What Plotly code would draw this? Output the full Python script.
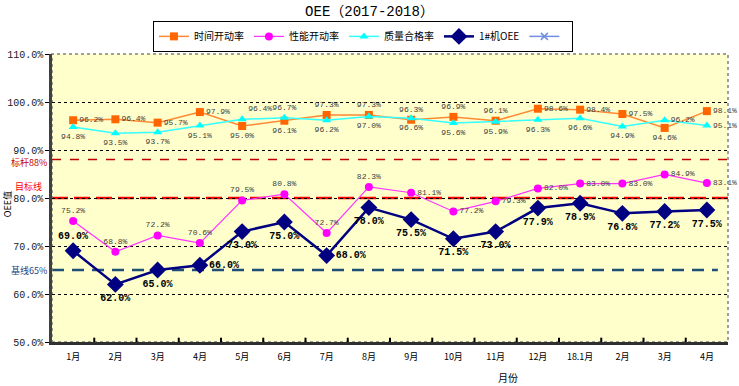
import plotly.graph_objects as go

months = ["1月", "2月", "3月", "4月", "5月", "6月", "7月", "8月", "9月", "10月", "11月", "12月", "18.1月", "2月", "3月", "4月"]
time_rate = [96.2, 96.4, 95.7, 97.9, 95.0, 96.1, 97.3, 97.3, 96.3, 96.9, 96.1, 98.6, 98.4, 97.5, 94.6, 98.1]
perf_rate = [75.2, 68.8, 72.2, 70.6, 79.5, 80.8, 72.7, 82.3, 81.1, 77.2, 79.3, 82.0, 83.0, 83.0, 84.9, 83.1]
qual_rate = [94.8, 93.5, 93.7, 95.1, 96.4, 96.7, 96.2, 97.0, 96.6, 95.6, 95.9, 96.3, 96.6, 94.9, 96.2, 95.1]
oee = [69.0, 62.0, 65.0, 66.0, 73.0, 75.0, 68.0, 78.0, 75.5, 71.5, 73.0, 77.9, 78.9, 76.8, 77.2, 77.5]
benchmark = 88
target = 80
baseline = 65

# unique x keys (month names repeat)
xkeys = list(range(len(months)))

MONO = "Liberation Mono, Noto Sans CJK SC"
CJK = "Noto Sans CJK SC"

time_pos = ["middle right"] * 4 + ["bottom center", "bottom center", "top center", "top center", "top center", "top center", "top center",
            "middle right", "middle right", "middle right", "bottom center", "middle right"]
qual_pos = ["bottom center"] * 4 + ["top right", "top center"] + ["bottom center"] * 8 + ["middle right", "middle right"]
perf_pos = ["top center"] * 8 + ["middle right"] * 8
oee_pos = ["top center", "bottom center", "bottom center", "middle right", "bottom center", "bottom center", "middle right"] + ["bottom center"] * 9

small_font = dict(family=MONO, size=8, color="#404040")

fig = go.Figure()
fig.add_trace(go.Scatter(x=xkeys, y=time_rate, name="时间开动率", mode="lines+markers+text",
                         line=dict(color="#FF8A33", width=1.5),
                         marker=dict(symbol="square", size=8, color="#FF6600"),
                         text=[f"{v:.1f}%" for v in time_rate], textposition=time_pos, textfont=small_font,
                         cliponaxis=False))
fig.add_trace(go.Scatter(x=xkeys, y=perf_rate, name="性能开动率", mode="lines+markers+text",
                         line=dict(color="#FF33FF", width=1.2),
                         marker=dict(symbol="circle", size=8, color="#FF00FF"),
                         text=[f"{v:.1f}%" for v in perf_rate], textposition=perf_pos, textfont=small_font,
                         cliponaxis=False))
fig.add_trace(go.Scatter(x=xkeys, y=qual_rate, name="质量合格率", mode="lines+markers+text",
                         line=dict(color="#33FFFF", width=1.5),
                         marker=dict(symbol="triangle-up", size=8, color="#00FFFF"),
                         text=[f"{v:.1f}%" for v in qual_rate], textposition=qual_pos, textfont=small_font,
                         cliponaxis=False))
fig.add_trace(go.Scatter(x=xkeys, y=oee, name="1#机OEE", mode="lines+markers+text",
                         line=dict(color="#000080", width=2.5),
                         marker=dict(symbol="diamond", size=13, color="#000080"),
                         text=[f"<b>{v:.1f}%</b>" for v in oee], textposition=oee_pos,
                         textfont=dict(family=MONO, size=10, color="#000000")))
fig.add_trace(go.Scatter(x=[None], y=[None], name=" ", mode="lines+markers",
                         line=dict(color="#6F8FDF", width=1.5),
                         marker=dict(symbol="x-thin", size=7, color="#6F8FDF", line=dict(color="#6F8FDF", width=1.5))))

# reference lines
fig.add_shape(type="line", xref="paper", yref="y", x0=0, x1=1, y0=benchmark, y1=benchmark,
              line=dict(color="#C00000", width=1.5, dash="dash"), layer="below")
fig.add_shape(type="line", xref="paper", yref="y", x0=0, x1=1, y0=target, y1=target,
              line=dict(color="#FF0000", width=2.5, dash="16px,6px"), layer="below")
fig.add_shape(type="line", xref="paper", yref="y", x0=0, x1=0.985, y0=baseline, y1=baseline,
              line=dict(color="#1F4E79", width=2.5, dash="12px,8px"), layer="below")
# dotted top/right border
fig.add_shape(type="rect", xref="paper", yref="paper", x0=0, x1=1, y0=0, y1=1,
              line=dict(color="#808080", width=1.5, dash="dot"), layer="below")

fig.add_annotation(xref="paper", yref="y", x=-0.004, y=benchmark, text="标杆88%", showarrow=False,
                   xanchor="right", yanchor="middle", yshift=-3, font=dict(family=CJK, size=9, color="#C00000"))
fig.add_annotation(xref="paper", yref="y", x=-0.012, y=82.5, text="目标线", showarrow=False,
                   xanchor="right", yanchor="middle", font=dict(family=CJK, size=9, color="#FF0000"))
fig.add_annotation(xref="paper", yref="y", x=-0.004, y=baseline, text="基线65%", showarrow=False,
                   xanchor="right", yanchor="middle", font=dict(family=CJK, size=9, color="#1F3F7F"))
fig.add_annotation(xref="paper", yref="paper", x=-0.066, y=0.48, text="OEE值", showarrow=False,
                   xanchor="center", yanchor="middle",
                   textangle=-90, font=dict(family=CJK, size=9, color="#000000"))
fig.add_annotation(xref="paper", yref="paper", x=0.674, y=-0.09, text="月份", showarrow=False,
                   xanchor="center", yanchor="top", font=dict(family=CJK, size=10, color="#000000"))

fig.update_layout(
    width=739, height=386,
    margin=dict(l=52, r=11, t=54, b=44, autoexpand=False),
    paper_bgcolor="white",
    plot_bgcolor="#FFFFCC",
    title=dict(text="OEE（2017-2018）", x=0.5, xanchor="center", y=0.985, yanchor="top",
               font=dict(family=MONO, size=14, color="#000000")),
    legend=dict(orientation="h", x=0.46, xanchor="center", y=1.115, yanchor="top",
                bordercolor="#000000", borderwidth=1, bgcolor="white",
                font=dict(family=CJK, size=10, color="#000000"), itemwidth=30,
                tracegroupgap=0),
    showlegend=True,
    xaxis=dict(type="linear", range=[-0.5, len(months) - 0.5], tickmode="array", tickvals=xkeys, ticktext=months,
               showgrid=False, zeroline=False, showline=True, linecolor="#303030", linewidth=3,
               ticks="", ticklabelstandoff=4, tickfont=dict(family=CJK, size=9, color="#000000")),
    yaxis=dict(range=[50, 110], dtick=10, tickformat=".1f", ticksuffix="%",
               showgrid=True, gridcolor="#000000", griddash="dot", gridwidth=1,
               zeroline=False, showline=True, linecolor="#404040", linewidth=2.5,
               ticks="outside", ticklen=4, tickcolor="#000000",
               tickfont=dict(family=MONO, size=10, color="#202020")),
)

# inside tick marks at category boundaries on the x axis
for i in range(1, len(months)):
    fig.add_shape(type="line", xref="x", yref="paper", x0=i - 0.5, x1=i - 0.5, y0=0, y1=0.015,
                  line=dict(color="#000000", width=2))

fig.write_html("out.html", config={"displayModeBar": False},
               post_script="document.body.style.margin='0';document.body.style.overflow='hidden';")
